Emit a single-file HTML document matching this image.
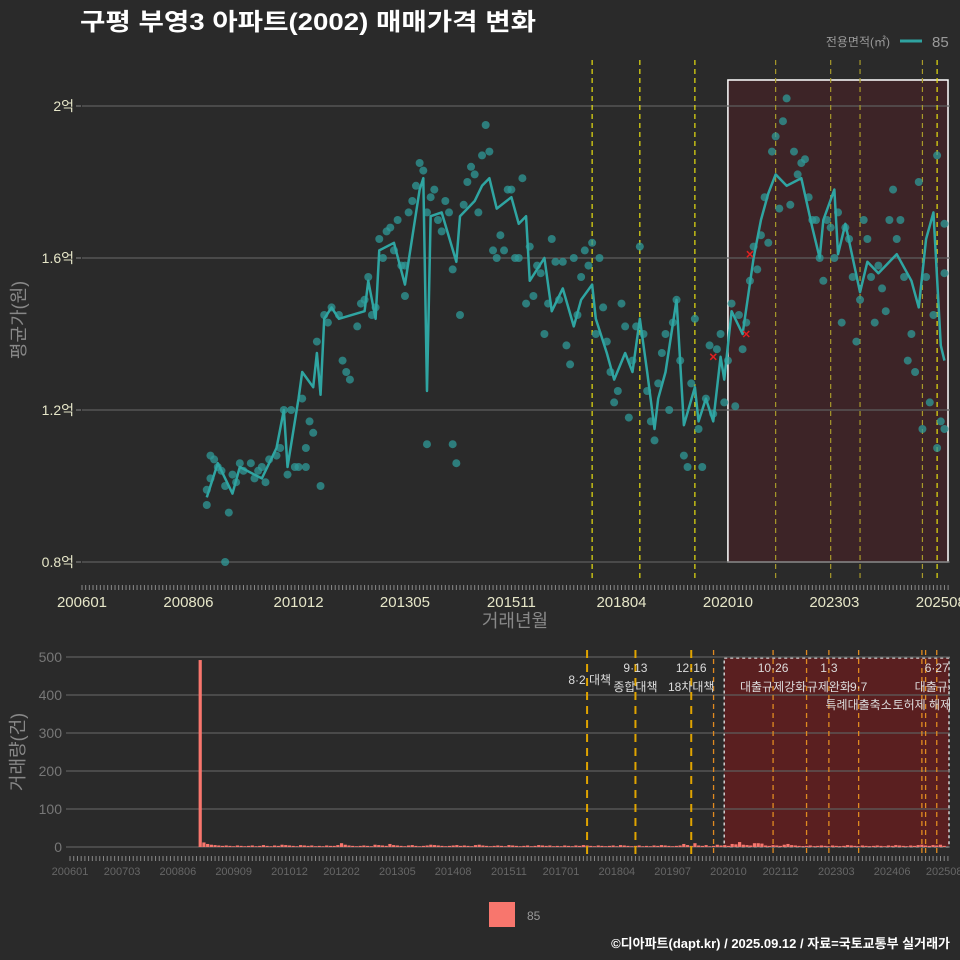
<!DOCTYPE html>
<html><head><meta charset="utf-8"><style>
html,body{margin:0;padding:0;background:#2a2a2a;}
svg{display:block;font-family:"Liberation Sans","Noto Sans CJK KR",sans-serif;}
</style></head><body>
<svg id="c" width="960" height="960" viewBox="0 0 960 960">
<rect x="0" y="0" width="960" height="960" fill="#2a2a2a"/>
<text x="80" y="30" fill="#ffffff" font-size="24" font-weight="bold" textLength="456" lengthAdjust="spacingAndGlyphs">구평 부영3 아파트(2002) 매매가격 변화</text>
<g>
<text x="890" y="46" fill="#999" font-size="12" text-anchor="end">전용면적(㎡)</text>
<line x1="900" y1="41" x2="922" y2="41" stroke="#2fa3a0" stroke-width="3"/>
<text x="932" y="47" fill="#999" font-size="15">85</text>
</g>
<g id="topPanel"></g>
<g id="botPanel"></g>
<text transform="translate(25,320) rotate(-90)" fill="#888" font-size="18" text-anchor="middle">평균가(원)</text>
<text x="515" y="627" fill="#888" font-size="18" text-anchor="middle">거래년월</text>
<text transform="translate(24,752) rotate(-90)" fill="#888" font-size="18" text-anchor="middle">거래량(건)</text>
<rect x="489" y="902" width="26" height="25" fill="#f8766d"/>
<text x="527" y="920" fill="#999" font-size="12">85</text>
<text x="950" y="948" fill="#ffffff" font-size="13" font-weight="bold" text-anchor="end">©디아파트(dapt.kr) / 2025.09.12 / 자료=국토교통부 실거래가</text>
</svg>
<script>
const lineMonths=[34,37,41,43,49,53,55,56,59,60,63,64,65,66,68,70,77,78,80,81,85,88,92,93,94,95,98,102,103,107,109,111,113,117,119,121,122,126,128,131,134,136,139,140,143,145,148,150,152,154,156,157,159,162,164,167,168,170,172,174,175,177,180,183,185,187,189,192,194,196,199,201,202,205,206,208,212,214,217,222,226,228,230,232,234,235];
const lineValues=[0.97,1.06,0.98,1.05,1.02,1.10,1.20,1.05,1.23,1.30,1.26,1.35,1.24,1.44,1.47,1.44,1.46,1.54,1.44,1.62,1.64,1.53,1.78,1.81,1.25,1.71,1.72,1.59,1.71,1.75,1.79,1.81,1.73,1.76,1.69,1.71,1.54,1.60,1.46,1.52,1.42,1.49,1.53,1.44,1.35,1.28,1.35,1.30,1.44,1.30,1.15,1.23,1.30,1.49,1.16,1.26,1.17,1.23,1.17,1.34,1.28,1.46,1.40,1.60,1.70,1.77,1.82,1.79,1.80,1.81,1.68,1.60,1.70,1.78,1.61,1.69,1.51,1.59,1.56,1.61,1.54,1.47,1.65,1.72,1.37,1.33];
const dotMonths=[34,34,35,35,36,37,38,39,39,40,41,42,43,44,46,47,48,49,50,51,53,54,55,56,57,58,59,60,61,61,62,63,64,65,66,67,68,70,71,72,73,75,76,77,78,79,80,81,82,83,84,85,86,87,88,88,89,90,91,92,93,94,94,95,96,97,98,99,100,101,101,102,103,104,105,106,107,108,109,110,111,112,113,114,115,116,117,118,119,120,121,122,123,124,125,126,127,128,129,130,131,132,133,134,135,136,137,138,139,140,141,142,143,144,145,146,147,148,149,150,151,152,153,154,155,156,157,158,159,160,161,162,163,164,165,166,167,168,169,170,171,172,173,174,175,176,177,178,179,180,181,182,183,184,185,186,187,188,189,190,191,192,193,194,195,196,197,198,199,200,201,202,203,204,205,206,207,208,209,210,211,212,213,214,215,216,217,218,219,220,221,222,223,224,225,226,227,228,229,230,231,232,233,234,235,235,235,233];
const dotValues=[0.95,0.99,1.02,1.08,1.07,1.05,1.04,1.00,0.80,0.93,1.03,1.01,1.06,1.04,1.06,1.02,1.04,1.05,1.01,1.07,1.08,1.10,1.20,1.03,1.20,1.05,1.05,1.23,1.05,1.10,1.17,1.14,1.38,1.00,1.45,1.43,1.47,1.45,1.33,1.30,1.28,1.42,1.48,1.49,1.55,1.45,1.47,1.65,1.60,1.67,1.68,1.62,1.70,1.58,1.50,1.58,1.72,1.75,1.79,1.85,1.83,1.11,1.72,1.76,1.78,1.70,1.67,1.75,1.72,1.57,1.11,1.06,1.45,1.74,1.80,1.84,1.82,1.72,1.87,1.95,1.88,1.62,1.60,1.66,1.62,1.78,1.78,1.60,1.60,1.81,1.48,1.63,1.50,1.58,1.56,1.40,1.48,1.65,1.59,1.49,1.59,1.37,1.32,1.60,1.45,1.55,1.62,1.58,1.64,1.40,1.60,1.47,1.38,1.30,1.22,1.25,1.48,1.42,1.18,1.33,1.42,1.63,1.40,1.25,1.17,1.12,1.27,1.35,1.40,1.20,1.43,1.49,1.33,1.08,1.05,1.27,1.44,1.15,1.05,1.23,1.37,1.19,1.36,1.40,1.22,1.33,1.48,1.21,1.45,1.36,1.43,1.54,1.63,1.57,1.66,1.76,1.64,1.88,1.92,1.73,1.96,2.02,1.74,1.88,1.82,1.85,1.86,1.76,1.70,1.70,1.60,1.54,1.70,1.68,1.60,1.72,1.43,1.68,1.65,1.55,1.38,1.49,1.70,1.65,1.55,1.43,1.58,1.52,1.46,1.70,1.78,1.65,1.70,1.55,1.33,1.40,1.30,1.80,1.15,1.55,1.22,1.45,1.10,1.17,1.15,1.69,1.56,1.87];
const crossMonths=[172,181,182];
const crossValues=[1.34,1.40,1.61];
const yTickValues=[0.8,1.2,1.6,2.0];
const yTickLabels=['0.8억','1.2억','1.6억','2억'];
const xTickMonths=[0,29,59,88,117,147,176,205,234];
const xTickLabels=['200601','200806','201012','201305','201511','201804','202010','202303','202508'];
const topPolicyMonths=[139,152,167,189,204,212,229,233];
const volMonthStart=35;
const volCounts=[492,12,8,6,5,4,3,4,3,2,4,3,2,3,4,2,3,5,3,2,
4,3,6,5,4,3,2,5,4,3,4,2,3,2,4,3,3,5,10,6,
4,3,2,3,4,3,2,6,5,4,3,8,5,4,3,2,4,5,3,2,
3,4,6,5,4,3,2,3,4,5,3,4,3,2,5,6,4,3,2,3,
4,3,2,5,4,3,2,3,4,2,3,5,4,3,4,2,3,2,4,3,
2,4,3,5,4,3,2,4,3,2,3,4,2,5,4,3,2,3,4,2,
3,2,4,3,5,4,3,2,3,4,8,5,3,10,4,3,5,2,3,6,
4,5,3,8,7,13,6,5,4,10,10,9,4,3,5,4,3,6,8,5,
4,3,2,3,4,2,3,4,3,2,4,3,2,3,5,4,3,2,4,3,
2,3,4,3,2,4,3,5,4,3,2,4,3,5,6,4,3,5,4,6,3];
const volTicks=[0,100,200,300,400,500];
const bxTickMonths=[0,14,29,44,59,73,88,103,118,132,147,162,177,191,206,221,235];
const bxTickLabels=['200601','200703','200806','200909','201012','201202','201305','201408','201511','201701','201804','201907','202010','202112','202303','202406','202508'];
const botMajorPolicyMonths=[139,152,167];
const botMinorPolicyMonths=[173,189,198,204,212,229,230,233];
const annoMonths=[139,152,152,167,167,189,189,204,204,212,212,229,233,233];
const annoRows=[3,0,1,0,1,0,1,0,1,1,2,2,0,1];
const annoTexts=['8·2 대책','9·13','종합대책','12·16','18차대책','10·26','대출규제강화','1·3','규제완화','9·7','특례대출축소','토허제 해제','6·27','대출규제'];
const shadeStartMonth=176;

const NS='http://www.w3.org/2000/svg';
function mk(parent,tag,attrs){const e=document.createElementNS(NS,tag);for(const k in attrs)e.setAttribute(k,attrs[k]);parent.appendChild(e);return e;}
const X=m=>82+3.67*m, Y=v=>562-(v-0.8)*380;
const XB=m=>70+3.72*m, YB=c=>847-c*0.38;
const topG=document.getElementById('topPanel'), botG=document.getElementById('botPanel');
const defs=mk(document.getElementById('c'),'defs',{});
const cp=mk(defs,'clipPath',{id:'ct'});mk(cp,'rect',{x:82,y:55,width:868,height:525});
const cb=mk(defs,'clipPath',{id:'cb'});mk(cb,'rect',{x:66,y:645,width:884,height:215});

let r=mk(topG,'rect',{x:X(shadeStartMonth),y:80,width:948-X(shadeStartMonth),height:482,fill:'#3d2427',stroke:'#ffffff','stroke-width':1.5});


yTickValues.forEach((v,i)=>{
 let g=mk(topG,'line',{x1:82,x2:950,y1:Y(v),y2:Y(v),stroke:'#5e5e5e','stroke-width':1.2});
 
 
 mk(topG,'line',{x1:76,x2:81,y1:Y(v),y2:Y(v),stroke:'#888'});
 let t=mk(topG,'text',{x:74,y:Y(v)+5,fill:'#e6e6c8','font-size':14,'text-anchor':'end'});t.textContent=yTickLabels[i];
 
 
});
topPolicyMonths.forEach(m=>{
 const inS=m>=shadeStartMonth && m<233;
 let l=mk(topG,'line',{x1:X(m),x2:X(m),y1:60,y2:578,stroke:inS?'#a89a2a':'#e8e010','stroke-width':1.2,'stroke-dasharray':'5,4'});
 
 
});
const tg=mk(topG,'g',{'clip-path':'url(#ct)'});
dotMonths.forEach((m,i)=>{
 let d=mk(tg,'circle',{cx:X(m),cy:Y(dotValues[i]),r:4,fill:'#2f9a98','fill-opacity':0.75});
 
 
});
let p=mk(tg,'polyline',{points:lineMonths.map((m,i)=>X(m)+','+Y(lineValues[i])).join(' '),fill:'none',stroke:'#2fa5a2','stroke-width':2.5,'stroke-linejoin':'round'});


crossMonths.forEach((m,i)=>{
 const x=X(m),y=Y(crossValues[i]);
 let c=mk(tg,'path',{d:`M${x-3},${y-3}L${x+3},${y+3}M${x-3},${y+3}L${x+3},${y-3}`,stroke:'#e02020','stroke-width':1.5});
 
 
});
let tk='';for(let m=0;m<=236;m++){tk+=`M${X(m)},585L${X(m)},590`;}
let tkp=mk(topG,'path',{d:tk,stroke:'#888','stroke-width':1});


xTickMonths.forEach((m,i)=>{
 let t=mk(topG,'text',{x:X(m),y:607,fill:'#e6e6c8','font-size':15,'text-anchor':'middle'});t.textContent=xTickLabels[i];
 
 
});

let br=mk(botG,'rect',{x:XB(shadeStartMonth)-0.5,y:658,width:949-XB(shadeStartMonth)+0.5,height:189,fill:'#5a1f20',stroke:'#cfcfcf','stroke-width':1.5,'stroke-dasharray':'3,3'});


volTicks.forEach(v=>{
 let g=mk(botG,'line',{x1:66,x2:950,y1:YB(v),y2:YB(v),stroke:'#5e5e5e','stroke-width':1.2});
 
 
 let t=mk(botG,'text',{x:62,y:YB(v)+5,fill:'#777','font-size':14,'text-anchor':'end'});t.textContent=v;
 
 
});
const bg=mk(botG,'g',{'clip-path':'url(#cb)'});
volCounts.forEach((c,i)=>{
 const m=volMonthStart+i;
 let b=mk(bg,'rect',{x:XB(m)-1.6,y:YB(c),width:3.2,height:847-YB(c),fill:'#f8766d'});
 
 
});
botMajorPolicyMonths.forEach(m=>{
 let l=mk(botG,'line',{x1:XB(m),x2:XB(m),y1:650,y2:856,stroke:'#e0a400','stroke-width':2,'stroke-dasharray':'8,6'});
 
 
});
botMinorPolicyMonths.forEach(m=>{
 let l=mk(botG,'line',{x1:XB(m),x2:XB(m),y1:650,y2:856,stroke:'#e08a20','stroke-width':1.3,'stroke-dasharray':'5,4'});
 
 
});
const ag=mk(botG,'g',{'clip-path':'url(#cb)'});
annoTexts.forEach((s,i)=>{
 const rowY=[672,691,709,684][annoRows[i]];
 const m=annoMonths[i];
 let x=XB(m), anchor='middle';
 if(m===139){x=XB(m)+24;anchor='end';}
 let t=mk(ag,'text',{x:x,y:rowY,fill:'#dcdcdc','font-size':12,'text-anchor':anchor});t.textContent=s;
 
 
});
let btk='';for(let m=0;m<=236;m++){btk+=`M${XB(m)},856L${XB(m)},861`;}
let btkp=mk(botG,'path',{d:btk,stroke:'#888','stroke-width':1});


bxTickMonths.forEach((m,i)=>{
 let t=mk(botG,'text',{x:XB(m),y:875,fill:'#666','font-size':11,'text-anchor':'middle'});t.textContent=bxTickLabels[i];
 
 
});
</script>
</body></html>
